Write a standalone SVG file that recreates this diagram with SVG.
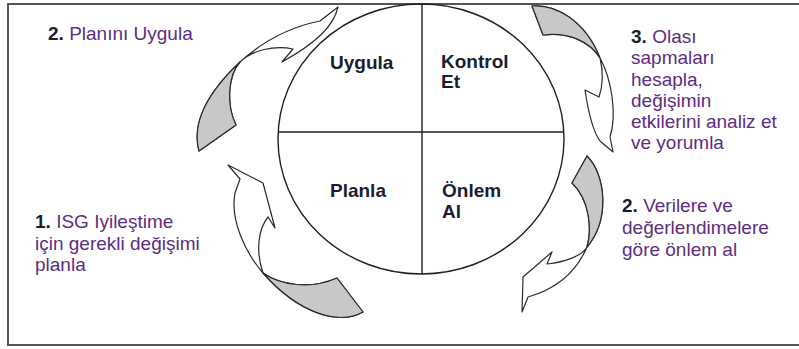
<svg xmlns="http://www.w3.org/2000/svg" width="799" height="349" viewBox="0 0 799 349">
<style>
.frame{fill:none;stroke:#555;stroke-width:2}
.arr{fill:#fff;stroke:#2a2a2a;stroke-width:1.2;stroke-linejoin:round}
.back{fill:#c8c8c8;stroke:#2a2a2a;stroke-width:1.2;stroke-linejoin:round}
.ring{fill:none;stroke:#1e1e1e;stroke-width:1.4}
.q{font-family:"Liberation Sans",Arial,sans-serif;font-size:19px;font-weight:bold;fill:#1c1c30}
.n{font-family:"Liberation Sans",Arial,sans-serif;font-size:19px;fill:#5c2d82}
.b{font-weight:bold;fill:#1c1c30}
</style>
<rect class="frame" x="8" y="4" width="800" height="341"/>
<g id="connectors">
  <g id="arrow-uygula">
    <path class="arr" d="M199,151 C192,125 205,95 240,62 C262,42 290,27 320,21 L338,7 C334,25 318,42 282,62 L293,49 C275,45 252,50 240,62 C228,75 226,105 236,125 Z"/>
    <path class="back" d="M199,151 C192,125 205,95 240,62 C228,75 226,105 236,125 Z"/>
  </g>
  <g id="arrow-planla">
    <path class="arr" d="M363,312 C340,325 300,315 263,273 C245,252 230,220 235,193 L240,179 L228,165 L263,183 L275,228 L268,217 C259,228 255,250 263,273 C280,285 310,290 337,278 Z"/>
    <path class="back" d="M363,312 C340,325 300,315 263,273 C280,285 310,290 337,278 Z"/>
  </g>
  <g id="arrow-kontrol">
    <path class="arr" d="M532,6 C555,4 585,20 600,58 C612,80 617,115 610,137 L613,152 L600,141 C592,130 588,110 585,90 L599,97 C603,85 603,70 600,58 C590,42 570,32 543,35 Z"/>
    <path class="back" d="M532,6 C555,4 585,20 600,58 C590,42 570,32 543,35 Z"/>
  </g>
  <g id="arrow-onlem">
    <path class="arr" d="M587,156 C606,175 610,220 587,247 C578,268 560,288 528,297 L522,312 L523,277 L552,252 L547,264 C565,262 582,256 587,247 C592,230 590,200 572,183 Z"/>
    <path class="back" d="M587,156 C606,175 610,220 587,247 C592,230 590,200 572,183 Z"/>
  </g>
</g>
<g id="cycle">
  <ellipse class="ring" cx="421" cy="139" rx="143" ry="135"/>
  <line class="ring" x1="278" y1="132" x2="564" y2="132"/>
  <line class="ring" x1="422" y1="4" x2="422" y2="274"/>
</g>
<g id="q-uygula"><text class="q" x="330" y="69">Uygula</text></g>
<g id="q-kontrol"><text class="q" x="441" y="68">Kontrol</text><text class="q" x="441" y="88">Et</text></g>
<g id="q-planla"><text class="q" x="330" y="197">Planla</text></g>
<g id="q-onlem"><text class="q" x="442" y="197">Önlem</text><text class="q" x="442" y="218">Al</text></g>
<g id="note-2a"><text class="n" x="48" y="40"><tspan class="b">2.</tspan> Planını Uygula</text></g>
<g id="note-3">
  <text class="n" x="631" y="43"><tspan class="b">3.</tspan> Olası</text>
  <text class="n" x="631" y="64">sapmaları</text>
  <text class="n" x="631" y="85.5">hesapla,</text>
  <text class="n" x="631" y="107">değişimin</text>
  <text class="n" x="631" y="128">etkilerini analiz et</text>
  <text class="n" x="631" y="149">ve yorumla</text>
</g>
<g id="note-1">
  <text class="n" x="35" y="228"><tspan class="b">1.</tspan> ISG Iyileştime</text>
  <text class="n" x="35" y="249.5">için gerekli değişimi</text>
  <text class="n" x="35" y="271">planla</text>
</g>
<g id="note-2b">
  <text class="n" x="622" y="212"><tspan class="b">2.</tspan> Verilere ve</text>
  <text class="n" x="622" y="234">değerlendimelere</text>
  <text class="n" x="622" y="256">göre önlem al</text>
</g>
</svg>
